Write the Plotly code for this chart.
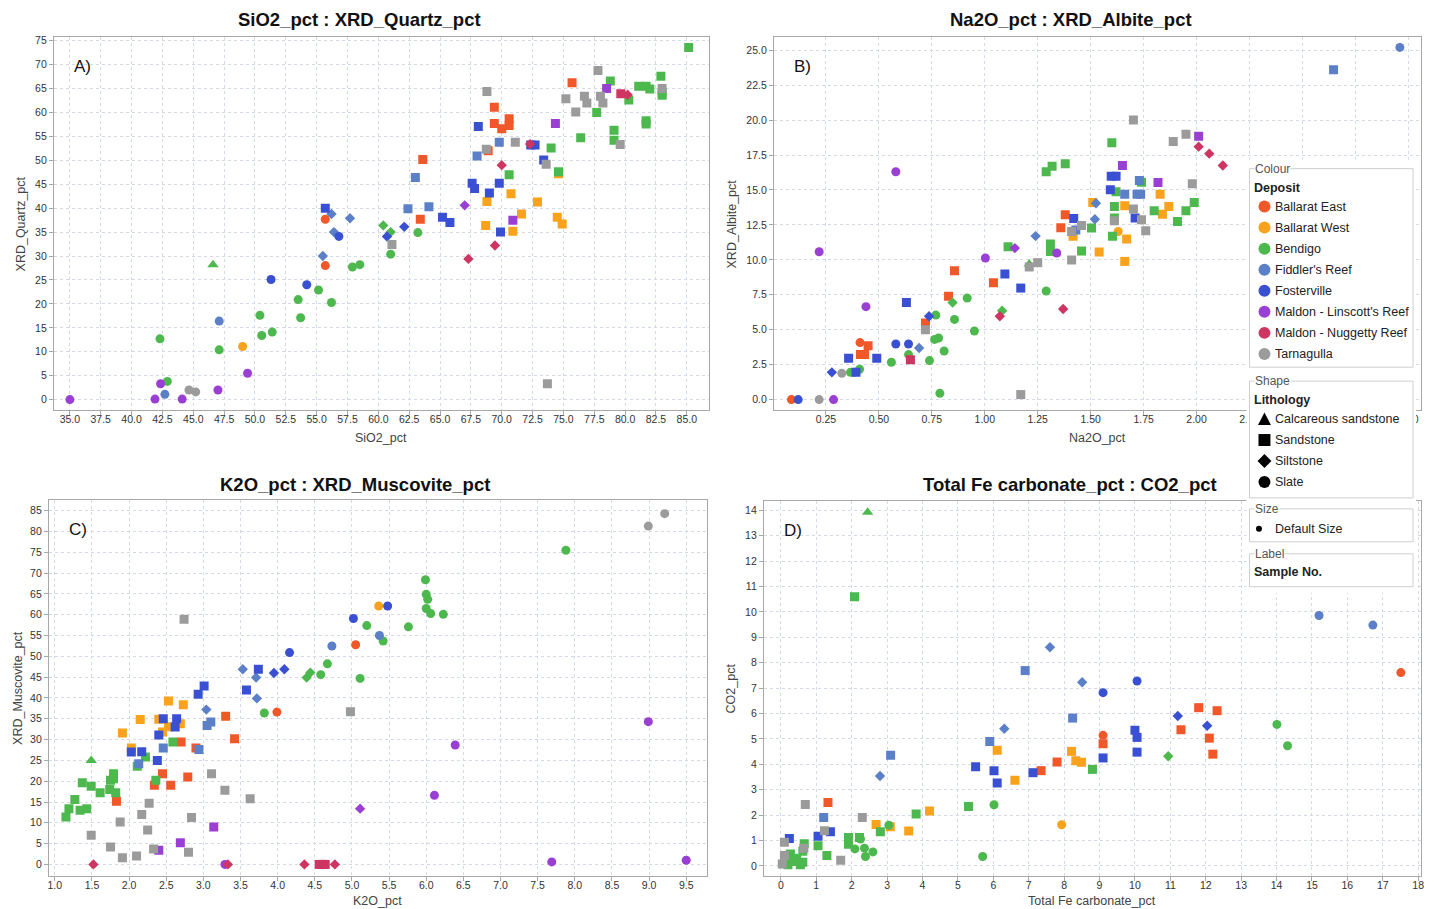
import plotly.graph_objects as go

W, H = 1434, 909

# ---------------- categories ----------------
DEPOSITS = ["Ballarat East", "Ballarat West", "Bendigo", "Fiddler's Reef", "Fosterville",
            "Maldon - Linscott's Reef", "Maldon - Nuggetty Reef", "Tarnagulla"]
DEP_CODES = ["BE", "BW", "BG", "FR", "FV", "ML", "MN", "TA"]
DEP_COLORS = ["#F0582A", "#F9A21B", "#4DB84E", "#5B80C8", "#3A50D2", "#9A3FD4", "#CF3562", "#9B9B9B"]
LITHOLOGIES = ["Calcareous sandstone", "Sandstone", "Siltstone", "Slate"]
LITH_CODES = ["C", "Sa", "Si", "Sl"]
LITH_SYMBOLS = ["triangle-up", "square", "diamond", "circle"]
LITH_SIZES = [10, 9, 8, 9]

# ---------------- Panel A : SiO2_pct vs XRD_Quartz_pct ----------------
A_x = [55.7, 55.7,
       63.6, 63.4, 68.9, 69.4, 69.4, 70.0, 70.6, 70.6, 75.7,
       49.0,
       68.8, 68.7, 70.75, 70.9, 71.6, 72.9, 74.6, 74.5, 74.9,
       42.3, 42.9, 47.1, 50.4, 50.55, 51.4, 53.5, 53.7, 55.15, 56.2, 57.9, 58.5, 61.0, 63.2,
       46.6,
       60.4, 61.0,
       70.6, 74.0, 74.6, 76.4, 77.7, 78.8, 79.1, 79.1, 80.3, 81.1, 81.7, 82.0, 81.7, 81.7, 82.9, 83.0, 83.0, 85.15,
       42.7, 47.1,
       56.2, 57.7, 56.4, 55.5,
       62.4, 63.0, 64.1, 68.0, 69.8,
       51.3, 54.2, 56.8,
       60.7, 62.1,
       55.7, 65.2, 65.8, 67.6, 67.8, 68.1, 69.0, 69.8, 69.9, 72.35, 72.7, 73.4,
       35.0, 42.35, 41.9, 44.1, 47.0, 49.4,
       67.0,
       70.9, 74.35, 78.5,
       67.3, 69.45, 70.0, 72.3, 80.2,
       79.65,
       44.65, 45.2,
       61.1, 68.8, 68.75, 71.1, 73.6, 73.7, 75.2, 76.0, 76.7, 76.9, 77.8, 78.0, 78.2, 79.6, 83.0]
A_y = [37.7, 28.0,
       50.2, 37.7, 52.0, 61.1, 57.7, 56.6, 58.7, 57.3, 66.2,
       11.1,
       41.4, 36.4, 43.0, 35.2, 38.8, 41.3, 47.2, 38.1, 36.7,
       12.7, 3.8, 10.4, 17.6, 13.4, 14.1, 20.9, 17.1, 22.9, 20.3, 27.7, 28.2, 30.4, 34.9,
       28.2,
       36.4, 35.0,
       47.0, 52.6, 47.6, 54.7, 60.0, 66.6, 56.3, 54.2, 62.6, 65.5, 65.5, 64.9, 58.3, 57.6, 67.6, 64.2, 63.6, 73.6,
       1.1, 16.4,
       38.8, 37.9, 35.0, 30.0,
       39.9, 46.4, 40.3, 50.9, 53.8,
       25.1, 24.0, 34.1,
       34.1, 36.1,
       40.0, 38.1, 37.0, 45.2, 44.1, 57.1, 43.2, 45.2, 35.0, 53.2, 53.2, 50.1,
       0.0, 3.3, 0.1, 0.1, 2.0, 5.5,
       40.6,
       37.5, 57.7, 65.0,
       29.4, 32.2, 49.0, 53.4, 63.7,
       63.9,
       2.0, 1.6,
       32.4, 64.4, 52.3, 53.8, 49.2, 3.3, 62.9, 60.1, 63.4, 62.0, 68.8, 63.4, 62.0, 53.3, 65.0]
A_groups = [("BE", "Sl", 2), ("BE", "Sa", 9), ("BW", "Sl", 1), ("BW", "Sa", 9), ("BG", "Sl", 14),
            ("BG", "C", 1), ("BG", "Si", 2), ("BG", "Sa", 18), ("FR", "Sl", 2), ("FR", "Si", 4),
            ("FR", "Sa", 5), ("FV", "Sl", 3), ("FV", "Si", 2), ("FV", "Sa", 12), ("ML", "Sl", 6),
            ("ML", "Si", 1), ("ML", "Sa", 3), ("MN", "Si", 5), ("MN", "Sa", 1), ("TA", "Sl", 2),
            ("TA", "Sa", 15)]

# ---------------- Panel B : Na2O_pct vs XRD_Albite_pct ----------------
B_x = [0.087, 0.411,
       0.413, 0.432, 0.449, 0.72, 0.829, 0.857, 1.041, 1.38, 1.359,
       1.63,
       1.417, 1.51, 1.54, 1.661, 1.67, 1.661, 1.828, 1.839, 1.869,
       0.366, 0.383, 0.409, 0.559, 0.64, 0.739, 0.808, 0.763, 0.782, 0.769, 0.857, 0.917, 0.951, 0.788, 1.29,
       0.848, 1.082,
       1.21,
       1.11, 1.29, 1.318, 1.38, 1.31, 1.31, 1.457, 1.504, 1.60, 1.62, 1.612, 1.612, 1.603, 1.74, 1.80, 1.91, 1.95, 1.989,
       0.69, 1.24, 1.52, 1.525,
       1.43, 1.661, 1.73, 1.719, 1.736, 2.647,
       2.96,
       0.119, 0.58, 0.64,
       0.278, 0.737,
       0.392, 0.357, 0.49, 0.63, 1.095, 1.17, 1.42, 1.597, 1.62, 1.593, 1.71,
       0.286, 0.218, 0.439, 0.58, 1.003, 1.34,
       1.142,
       1.65, 1.818, 2.01,
       0.649,
       1.071, 1.37, 2.01, 2.06, 2.124,
       0.218, 0.325,
       0.72, 1.17, 1.21, 1.25, 1.41, 1.41, 1.457, 1.612, 1.702, 1.702, 1.74, 1.76, 1.89, 1.95, 1.98]
B_y = [0.0, 4.08,
       3.22, 3.22, 3.86, 5.48, 7.39, 9.22, 8.37, 13.23, 12.3,
       12.03,
       11.68, 14.1, 10.56, 13.87, 11.49, 9.89, 14.7, 13.27, 13.82,
       1.95, 1.95, 2.17, 2.67, 3.22, 2.79, 3.48, 4.31, 4.41, 6.05, 5.74, 7.27, 4.91, 0.45, 7.77,
       6.94, 6.36,
       9.7,
       10.94, 16.3, 16.7, 16.87, 11.13, 10.6, 10.63, 12.27, 18.37, 14.87, 13.82, 12.99, 11.68, 15.56, 13.51, 12.75, 13.51, 14.1,
       3.69, 11.7, 12.9, 14.05,
       12.13, 14.7, 15.68, 14.7, 14.7, 23.6,
       25.2,
       0.0, 3.98, 3.98,
       1.95, 5.96,
       1.95, 2.96, 2.96, 6.94, 8.98, 7.98, 12.96, 15.99, 15.99, 15.01, 12.99,
       0.0, 10.58, 6.65, 16.3, 10.13, 10.49,
       10.84,
       16.75, 15.54, 18.85,
       2.86,
       5.96, 6.48, 18.1, 17.6, 16.75,
       0.0, 1.88,
       5.0, 0.36, 9.49, 9.8, 9.99, 12.03, 12.46, 12.8, 20.0, 13.63, 12.87, 12.08, 18.47, 18.99, 15.44]
B_groups = [("BE", "Sl", 2), ("BE", "Sa", 9), ("BW", "Sl", 1), ("BW", "Sa", 9), ("BG", "Sl", 15),
            ("BG", "Si", 2), ("BG", "C", 1), ("BG", "Sa", 18), ("FR", "Si", 4), ("FR", "Sa", 6),
            ("FR", "Sl", 1), ("FV", "Sl", 3), ("FV", "Si", 2), ("FV", "Sa", 11), ("ML", "Sl", 6),
            ("ML", "Si", 1), ("ML", "Sa", 3), ("MN", "Sa", 1), ("MN", "Si", 5), ("TA", "Sl", 2),
            ("TA", "Sa", 15)]

# ---------------- Panel C : K2O_pct vs XRD_Muscovite_pct ----------------
C_x = [1.15, 1.19, 1.27, 1.37, 1.34, 1.43, 1.49, 1.61, 1.74, 1.75, 1.79, 1.79, 1.82, 2.11, 2.22, 2.36, 2.59,
       1.49,
       3.82, 4.58, 4.67, 5.11, 5.20, 5.42, 5.76, 5.99, 6.00, 6.02, 6.00, 6.06, 6.23, 7.88,
       4.39, 4.44,
       1.83, 2.34, 2.45, 2.56, 2.70, 2.79, 2.90, 3.30, 3.42,
       3.99, 5.05,
       1.91, 2.03, 2.15, 2.40, 2.45, 2.53, 2.53, 2.69, 2.73,
       5.36,
       2.03, 2.17, 2.38, 2.40, 2.46, 2.64, 2.62, 2.93, 3.01, 3.58, 3.74,
       3.95, 4.09,
       4.16, 5.02, 5.48,
       2.13, 2.46, 2.94, 3.05, 3.10,
       3.04, 3.53, 3.71, 3.72,
       4.73, 5.37,
       1.49, 1.75, 1.88, 1.91, 2.10, 2.17, 2.25, 2.27, 2.33, 2.74, 2.80, 2.84, 3.11, 3.29, 3.63, 4.98,
       8.99, 9.21,
       2.40, 2.69, 3.14,
       3.29, 7.69, 9.5, 6.11, 6.39, 8.99,
       5.11,
       1.52, 3.33, 4.36, 4.77,
       4.56, 4.60, 4.64]
C_y = [11.4, 13.4, 15.6, 19.6, 13.0, 13.4, 18.8, 17.2, 18.0, 20.2, 21.8, 20.6, 17.2, 23.6, 25.8, 20.2, 29.4,
       25.0,
       36.4, 45.6, 48.2, 44.7, 57.4, 53.7, 57.1, 68.4, 64.9, 63.7, 61.5, 60.3, 60.1, 75.5,
       44.9, 46.1,
       15.2, 19.0, 21.8, 19.0, 29.4, 21.0, 28.0, 35.6, 30.2,
       36.6, 52.8,
       31.6, 28.0, 34.8, 34.9, 31.8, 39.3, 33.1, 33.8, 38.4,
       62.1,
       27.0, 27.1, 25.0, 31.1, 35.0, 35.0, 33.0, 40.9, 42.9, 41.9, 46.9,
       46.0, 46.9,
       50.9, 59.1, 62.1,
       24.2, 28.0, 27.6, 33.4, 34.2,
       37.2, 46.9, 44.9, 39.9,
       52.5, 55.0,
       7.0, 4.2, 10.2, 1.6, 2.0, 12.0, 8.3, 14.7, 3.7, 58.9, 2.9, 11.3, 21.8, 17.8, 15.8, 36.7,
       81.3, 84.3,
       3.4, 5.2, 9.0,
       0.0, 0.6, 1.0, 16.6, 28.7, 34.3,
       13.4,
       0.0, 0.0, 0.0, 0.0,
       0.0, 0.0, 0.0]
C_groups = [("BG", "Sa", 17), ("BG", "C", 1), ("BG", "Sl", 14), ("BG", "Si", 2), ("BE", "Sa", 9),
            ("BE", "Sl", 2), ("BW", "Sa", 9), ("BW", "Sl", 1), ("FV", "Sa", 11), ("FV", "Si", 2),
            ("FV", "Sl", 3), ("FR", "Sa", 5), ("FR", "Si", 4), ("FR", "Sl", 2), ("TA", "Sa", 16),
            ("TA", "Sl", 2), ("ML", "Sa", 3), ("ML", "Sl", 6), ("ML", "Si", 1), ("MN", "Si", 4),
            ("MN", "Sa", 3)]

# ---------------- Panel D : Total Fe carbonate_pct vs CO2_pct ----------------
D_x = [2.45,
       2.08, 8.80, 5.30, 3.82, 2.81, 1.05, 1.30, 1.91, 1.91, 2.22, 0.27, 0.30, 0.45, 0.62, 0.62, 0.66, 0.36, 0.20, 0.55,
       14.01, 14.31, 6.02, 5.70, 3.05, 2.25, 2.09, 2.36, 2.39, 2.60, 0.30,
       10.94,
       15.2, 16.72,
       7.6, 8.51, 6.31, 2.80,
       6.9, 8.24, 5.90, 3.10, 1.21,
       17.51, 9.10,
       11.8, 12.32, 11.3, 12.1, 12.2, 9.10, 7.80, 7.35, 1.33,
       9.10, 10.06,
       11.21, 12.04,
       10.0, 10.06, 10.06, 9.10, 7.12, 5.50, 6.02, 6.11, 1.40, 1.05, 0.24,
       8.21, 8.33, 8.49, 6.61, 6.11, 4.20, 3.61, 3.09, 2.69,
       7.93,
       2.30, 1.69, 0.69, 1.23, 0.04, 0.10, 0.10, 0.65]
D_y = [13.92,
       10.6, 3.80, 2.34, 2.04, 1.34, 0.79, 0.41, 1.12, 0.85, 1.12, 0.47, 0.17, 0.25, 0.14, 0.58, 0.87, 0.30, 0.05, 0.05,
       5.57, 4.73, 2.41, 0.37, 1.60, 1.06, 0.67, 0.70, 0.37, 0.55, 0.28,
       4.32,
       9.86, 9.48,
       8.61, 7.23, 5.40, 3.54,
       7.69, 5.82, 4.90, 4.36, 1.91,
       7.61, 5.14,
       6.23, 6.11, 5.36, 5.03, 4.40, 4.81, 4.09, 3.75, 2.50,
       6.82, 7.28,
       5.90, 5.52,
       5.34, 5.06, 4.48, 4.25, 3.67, 3.90, 3.75, 3.26, 1.34, 1.17, 1.08,
       4.51, 4.14, 4.08, 3.37, 4.55, 2.16, 1.37, 1.54, 1.63,
       1.62,
       1.91, 0.22, 2.42, 1.38, 0.08, 0.93, 0.41, 0.70]
D_groups = [("BG", "C", 1), ("BG", "Sa", 19), ("BG", "Sl", 11), ("BG", "Si", 1), ("FR", "Sl", 2),
            ("FR", "Si", 4), ("FR", "Sa", 5), ("BE", "Sl", 2), ("BE", "Sa", 9), ("FV", "Sl", 2),
            ("FV", "Si", 2), ("FV", "Sa", 11), ("BW", "Sa", 9), ("BW", "Sl", 1), ("TA", "Sa", 8)]

# ---------------- tick labels ----------------
A_xticks = [35.0, 37.5, 40.0, 42.5, 45.0, 47.5, 50.0, 52.5, 55.0, 57.5, 60.0, 62.5, 65.0, 67.5, 70.0,
            72.5, 75.0, 77.5, 80.0, 82.5, 85.0]
B_xticks = [0.25, 0.50, 0.75, 1.00, 1.25, 1.50, 1.75, 2.00, 2.25, 2.50, 2.75, 3.00]
B_xticklabels = ["0.25", "0.50", "0.75", "1.00", "1.25", "1.50", "1.75", "2.00", "2.25", "", "", "3.00"]

# ---------------- layout config ----------------
TITLES = ["SiO2_pct : XRD_Quartz_pct", "Na2O_pct : XRD_Albite_pct",
          "K2O_pct : XRD_Muscovite_pct", "Total Fe carbonate_pct : CO2_pct"]
XLABELS = ["SiO2_pct", "Na2O_pct", "K2O_pct", "Total Fe carbonate_pct"]
YLABELS = ["XRD_Quartz_pct", "XRD_Albite_pct", "XRD_Muscovite_pct", "CO2_pct"]
PANEL_TAGS = ["A)", "B)", "C)", "D)"]

panels = [
    dict(x=A_x, y=A_y, g=A_groups, box=(53, 35, 710, 409), xr=[33.7, 86.8], yr=[-2.2, 75.8],
         xd=2.5, x0=35, xf=".1f", yd=5, yf="d", tc=(360, 18), yl=20, xl=437,
         tv=A_xticks, tt=[f"{v:.1f}" for v in A_xticks]),
    dict(x=B_x, y=B_y, g=B_groups, box=(775, 35, 1424, 409), xr=[0.004, 3.06], yr=[-0.75, 25.95],
         xd=0.25, x0=0, xf=".2f", yd=2.5, yf=".1f", tc=(1073, 18), yl=733, xl=437,
         tv=B_xticks, tt=B_xticklabels),
    dict(x=C_x, y=C_y, g=C_groups, box=(48, 499, 708, 876), xr=[0.92, 9.78], yr=[-2.8, 87.6],
         xd=0.5, x0=0, xf=".1f", yd=5, yf="d", tc=(355, 484), yl=17, xl=901, tv=None, tt=None),
    dict(x=D_x, y=D_y, g=D_groups, box=(765, 500, 1424, 876), xr=[-0.48, 18.08], yr=[-0.4, 14.37],
         xd=1, x0=0, xf="d", yd=1, yf="d", tc=(1072, 484), yl=733, xl=901, tv=None, tt=None),
]


def PX(p):
    return p / W


def PY(p):
    return 1 - p / H


FONT = "Liberation Sans, Arial, sans-serif"
fig = go.Figure()
annotations = []
shapes = []
layout = {}

for pi, P in enumerate(panels):
    sfx = "" if pi == 0 else str(pi + 1)
    deps, liths = [], []
    for d, l, n in P["g"]:
        deps += [d] * n
        liths += [l] * n
    assert len(deps) == len(P["x"]) == len(P["y"]), (pi, len(deps), len(P["x"]), len(P["y"]))
    for di, dc in enumerate(DEP_CODES):
        for li, lc in enumerate(LITH_CODES):
            idx = [i for i in range(len(deps)) if deps[i] == dc and liths[i] == lc]
            if not idx:
                continue
            fig.add_trace(go.Scatter(
                x=[P["x"][i] for i in idx], y=[P["y"][i] for i in idx], mode="markers",
                marker=dict(symbol=LITH_SYMBOLS[li], size=LITH_SIZES[li], color=DEP_COLORS[di],
                            line=dict(width=0)),
                name=f"{DEPOSITS[di]} / {LITHOLOGIES[li]}", showlegend=False,
                xaxis="x" + sfx, yaxis="y" + sfx))
    x0p, y0p, x1p, y1p = P["box"]
    common = dict(showline=True, mirror=True, linecolor="#a8a8a8", linewidth=1,
                  showgrid=True, gridcolor="#d3dae6", griddash="dot", gridwidth=1,
                  zeroline=False, ticks="outside", ticklen=4, tickcolor="#a8a8a8",
                  tickfont=dict(family=FONT, size=10.5, color="#333333"))
    xax = dict(common, domain=[PX(x0p), PX(x1p)], range=P["xr"], anchor="y" + sfx,
               ticklabelstandoff=-5)
    if P["tv"] is not None:
        xax.update(tickmode="array", tickvals=P["tv"], ticktext=P["tt"])
    else:
        xax.update(dtick=P["xd"], tick0=P["x0"], tickformat=P["xf"])
    layout["xaxis" + sfx] = xax
    layout["yaxis" + sfx] = dict(common, domain=[PY(y1p), PY(y0p)], range=P["yr"], dtick=P["yd"],
                                 tick0=0, tickformat=P["yf"], anchor="x" + sfx)
    # titles & labels
    annotations.append(dict(text="<b>" + TITLES[pi] + "</b>", x=PX(P["tc"][0]), y=PY(P["tc"][1]),
                            xref="paper", yref="paper", showarrow=False, xanchor="center", yanchor="middle",
                            font=dict(family=FONT, size=18.5, color="#111111")))
    annotations.append(dict(text=XLABELS[pi], x=PX((x0p + x1p) / 2), y=PY(P["xl"]),
                            xref="paper", yref="paper", showarrow=False, xanchor="center", yanchor="middle",
                            font=dict(family=FONT, size=12.5, color="#444444")))
    annotations.append(dict(text=YLABELS[pi], x=PX(P["yl"]), y=PY((y0p + y1p) / 2),
                            xref="paper", yref="paper", showarrow=False, textangle=-90,
                            xanchor="center", yanchor="middle",
                            font=dict(family=FONT, size=12.5, color="#444444")))
    annotations.append(dict(text=PANEL_TAGS[pi], x=PX(x0p + 18), y=PY(y0p + 30),
                            xref="paper", yref="paper", showarrow=False, xanchor="left", yanchor="middle",
                            font=dict(family=FONT, size=17, color="#111111")))

# ---------------- custom legend panel ----------------
LG = "#cfcfcf"
shapes.append(dict(type="rect", xref="paper", yref="paper", x0=PX(1249), x1=PX(1419), y0=PY(592), y1=PY(158),
                   fillcolor="white", line=dict(width=0), layer="above"))
for (top, bot) in [(167, 366), (380, 497), (508, 541), (553, 586)]:
    shapes.append(dict(type="rect", xref="paper", yref="paper", x0=PX(1252), x1=PX(1416),
                       y0=PY(bot), y1=PY(top), line=dict(color=LG, width=1), fillcolor="rgba(0,0,0,0)",
                       layer="above"))


def text_ann(t, x, y, size=12.5, color="#222222", bg=None):
    d = dict(text=t, x=PX(x), y=PY(y), xref="paper", yref="paper", showarrow=False,
             xanchor="left", yanchor="middle", font=dict(family=FONT, size=size, color=color))
    if bg:
        d["bgcolor"] = bg
        d["borderpad"] = 0
    annotations.append(d)


text_ann("Colour", 1257, 167, 12, "#555555", "white")
text_ann("<b>Deposit</b>", 1255, 186, 12.5)
for i, name in enumerate(DEPOSITS):
    cy = 205 + i * 21.1
    shapes.append(dict(type="circle", xref="paper", yref="paper", x0=PX(1261), x1=PX(1273),
                       y0=PY(cy + 6), y1=PY(cy - 6), fillcolor=DEP_COLORS[i], line=dict(width=0),
                       layer="above"))
    text_ann(name, 1276, cy, 12.5)

text_ann("Shape", 1257, 380, 12, "#555555", "white")
text_ann("<b>Lithology</b>", 1255, 399, 12.5)
lith_y = [418, 439, 460, 481]
for i, name in enumerate(LITHOLOGIES):
    cy = lith_y[i]
    sym = LITH_SYMBOLS[i]
    if sym == "circle":
        shapes.append(dict(type="circle", xref="paper", yref="paper", x0=PX(1261), x1=PX(1273),
                           y0=PY(cy + 6), y1=PY(cy - 6), fillcolor="black", line=dict(width=0),
                           layer="above"))
    elif sym == "square":
        shapes.append(dict(type="rect", xref="paper", yref="paper", x0=PX(1261), x1=PX(1273),
                           y0=PY(cy + 6), y1=PY(cy - 6), fillcolor="black", line=dict(width=0),
                           layer="above"))
    elif sym == "diamond":
        path = (f"M {PX(1267)} {PY(cy - 7)} L {PX(1274)} {PY(cy)} L {PX(1267)} {PY(cy + 7)} "
                f"L {PX(1260)} {PY(cy)} Z")
        shapes.append(dict(type="path", xref="paper", yref="paper", path=path, fillcolor="black",
                           line=dict(width=0), layer="above"))
    else:
        path = (f"M {PX(1267)} {PY(cy - 6.5)} L {PX(1273.5)} {PY(cy + 6)} L {PX(1260.5)} {PY(cy + 6)} Z")
        shapes.append(dict(type="path", xref="paper", yref="paper", path=path, fillcolor="black",
                           line=dict(width=0), layer="above"))
    text_ann(name, 1276, cy, 12.5)

text_ann("Size", 1257, 508, 12, "#555555", "white")
shapes.append(dict(type="circle", xref="paper", yref="paper", x0=PX(1258.5), x1=PX(1264.5),
                   y0=PY(531), y1=PY(525), fillcolor="black", line=dict(width=0), layer="above"))
text_ann("Default Size", 1276, 528, 12.5)
text_ann("Label", 1257, 553, 12, "#555555", "white")
text_ann("<b>Sample No.</b>", 1255, 571, 12.5)

fig.update_layout(width=W, height=H, margin=dict(l=0, r=0, t=0, b=0),
                  paper_bgcolor="white", plot_bgcolor="white", showlegend=False,
                  annotations=annotations, shapes=shapes, **layout)

fig.write_html("out.html", config={"displayModeBar": False},
               post_script="document.body.style.margin='0';document.body.style.overflow='hidden';")
